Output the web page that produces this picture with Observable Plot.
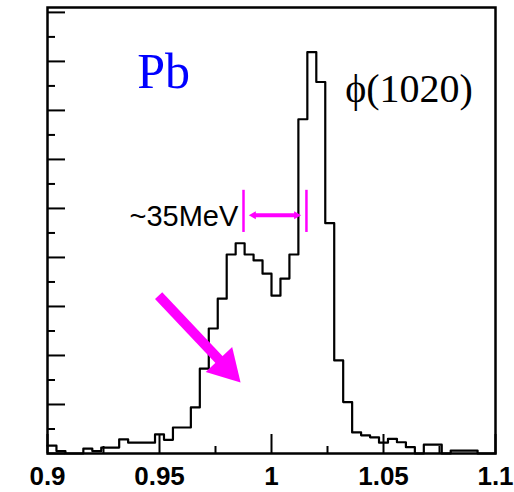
<!DOCTYPE html>
<html>
<head>
<meta charset="utf-8">
<script src="https://cdn.jsdelivr.net/npm/d3@7"></script>
<script src="https://cdn.jsdelivr.net/npm/@observablehq/plot@0.6"></script>
<style>
  html, body { margin: 0; padding: 0; background: #fff; }
  svg { display: block; }
</style>
</head>
<body>
<div id="chart"></div>
<script>
// K+K- invariant mass spectrum (Pb target), 4 MeV bins from 0.90 to 1.10 GeV
const binStart = 0.9;
const binWidth = 0.004;
const counts = [
  1.6, 0.5, 0, 0, 1.0, 0.5, 1.2, 1.2, 2.9, 2.2,
  2.2, 2.2, 3.9, 2.8, 5.3, 5.3, 9.4, 17.3, 25.5, 31.6,
  40.6, 42.9, 40.6, 39.4, 36.7, 32.2, 35.7, 40.6, 68.2, 81.9,
  75.8, 47.0, 19.0, 10.5, 4.3, 3.7, 3.3, 2.2, 3.0, 2.3,
  1.3, 0, 1.8, 1.8, 0, 0.6, 0.6, 0.6, 0, 0
];

// axis ticks
const xTicks = [0.9, 0.95, 1, 1.05, 1.1];
const xTickLabels = ["0.9", "0.95", "1", "1.05", "1.1"];
const xMinorTicks = [0.925, 0.975, 1.025, 1.075];
const yMajorTicks = [0, 10, 20, 30, 40, 50, 60, 70, 80, 90];
const yMinorTicks = [5, 15, 25, 35, 45, 55, 65, 75, 85];

// annotations (mass in GeV, height in counts)
const targetNote = [{label: "Pb", m: 0.9518, n: 77.8}];
const peakNote = [{label: "ϕ(1020)", m: 1.0614, n: 74.4}];
const widthNote = [{label: "~35MeV", m: 0.9609, n: 48.4}];
const widthEdges = [0.9875, 1.0156];
const widthLevel = 48.6;
const widthBar = [45.1, 53.7];
const pointer = {m1: 0.9496, n1: 32.2, m2: 0.9862, n2: 14.5};

// layout
const W = 514, H = 492;
const mL = 47, mR = 19, mT = 7, mB = 39;
const plotW = W - mL - mR, plotH = H - mT - mB;
const xDomain = [0.9, 1.1], yDomain = [0, 91];

const xs = Plot.scale({x: {domain: xDomain, range: [mL, W - mR]}});
const ys = Plot.scale({y: {domain: yDomain, range: [H - mB, mT]}});

// step outline of the histogram
const steps = counts.map((c, i) => ({m: binStart + i * binWidth, n: c}));
steps.push({m: binStart + counts.length * binWidth, n: counts[counts.length - 1]});

// arrow head placement: a filled triangle whose apex sits on the target point
function headFor(m1, n1, m2, n2, h) {
  const sx = xs.apply(m1), sy = ys.apply(n1);
  const tx = xs.apply(m2), ty = ys.apply(n2);
  const len = Math.hypot(tx - sx, ty - sy);
  const ux = (tx - sx) / len, uy = (ty - sy) / len;
  const cx = tx - 2 * h * ux, cy = ty - 2 * h * uy;
  return {
    m: xs.invert(cx), n: ys.invert(cy),
    rotate: Math.atan2(ux, -uy) * 180 / Math.PI,
    r: Math.sqrt(3 * Math.sqrt(3) * h * h / Math.PI)
  };
}
const bigHead = headFor(pointer.m1, pointer.n1, pointer.m2, pointer.n2, 10.5);
const leftHead = headFor(widthEdges[1], widthLevel, widthEdges[0], widthLevel, 5);
const rightHead = headFor(widthEdges[0], widthLevel, widthEdges[1], widthLevel, 5);

const sans = "'Liberation Sans', Arial, Helvetica, sans-serif";
const serif = "'Liberation Serif', 'Times New Roman', Times, serif";
const magenta = "#ff00ff";

const chart = Plot.plot({
  width: W,
  height: H,
  marginLeft: mL,
  marginRight: mR,
  marginTop: mT,
  marginBottom: mB,
  x: {domain: xDomain},
  y: {domain: yDomain, axis: null},
  marks: [
    // inward tick marks
    Plot.ruleX(xTicks, {stroke: "black", strokeWidth: 2, insetTop: plotH - 19}),
    Plot.ruleX(xMinorTicks, {stroke: "black", strokeWidth: 2, insetTop: plotH - 7}),
    Plot.ruleY(yMajorTicks, {stroke: "black", strokeWidth: 2, insetRight: plotW - 18}),
    Plot.ruleY(yMinorTicks, {stroke: "black", strokeWidth: 2, insetRight: plotW - 8}),
    Plot.axisX(xTicks, {
      tickSize: 0,
      tickPadding: 13,
      tickFormat: d => xTickLabels[xTicks.indexOf(d)],
      fontSize: 26,
      fontWeight: "bold",
      fontFamily: sans,
      fill: "black"
    }),
    // histogram
    Plot.line(steps, {x: "m", y: "n", curve: "step-after", stroke: "black", strokeWidth: 2.2}),
    Plot.frame({stroke: "black", strokeWidth: 2.5}),
    // labels
    Plot.text(targetNote, {x: "m", y: "n", text: "label", fontSize: 50, fontFamily: serif, fill: "#0000ff"}),
    Plot.text(peakNote, {x: "m", y: "n", text: "label", fontSize: 40, fontFamily: serif, fill: "black"}),
    Plot.text(widthNote, {x: "m", y: "n", text: "label", fontSize: 29, fontFamily: sans, fill: "black"}),
    // width marker
    Plot.ruleX(widthEdges, {y1: widthBar[0], y2: widthBar[1], stroke: magenta, strokeWidth: 2.5}),
    Plot.link([{}], {x1: leftHead.m, x2: rightHead.m, y1: widthLevel, y2: widthLevel, stroke: magenta, strokeWidth: 4}),
    Plot.dot([leftHead, rightHead], {x: "m", y: "n", symbol: "triangle", r: d => d.r, rotate: "rotate", fill: magenta, stroke: "none"}),
    // pointer arrow
    Plot.link([pointer], {x1: "m1", y1: "n1", x2: () => bigHead.m, y2: () => bigHead.n, stroke: magenta, strokeWidth: 10}),
    Plot.dot([bigHead], {x: "m", y: "n", symbol: "triangle", r: bigHead.r, rotate: "rotate", fill: magenta, stroke: "none"})
  ]
});
document.getElementById("chart").append(chart);
</script>
</body>
</html>
